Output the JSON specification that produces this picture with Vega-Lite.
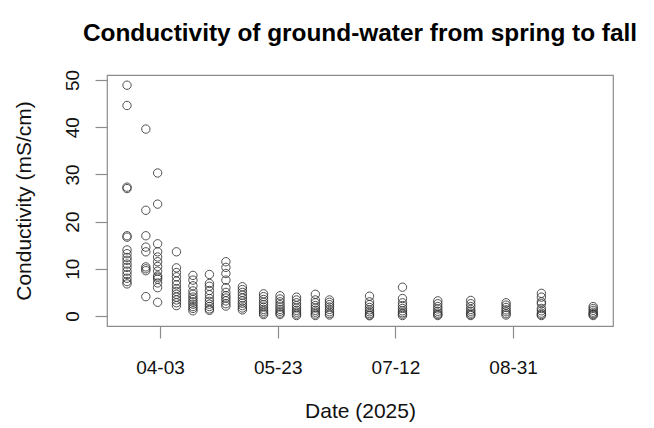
{
  "$schema": "https://vega.github.io/schema/vega-lite/v6.json",
  "autosize": {"type": "none"},
  "padding": {"left": 107, "top": 75, "right": 41, "bottom": 102},
  "width": 506,
  "height": 251,
  "background": "white",
  "title": {
    "text": "Conductivity of ground-water from spring to fall",
    "font": "Liberation Sans",
    "fontSize": 24.4,
    "fontWeight": "bold",
    "color": "#000",
    "anchor": "middle",
    "baseline": "alphabetic",
    "offset": 4
  },
  "config": {
    "view": {"stroke": "#8c8c8c", "strokeWidth": 1.2},
    "axis": {
      "grid": false,
      "domain": false,
      "tickColor": "#8c8c8c",
      "tickSize": 12,
      "tickWidth": 1.2,
      "labelFont": "Liberation Sans",
      "labelFontSize": 19,
      "labelColor": "#111",
      "titleFont": "Liberation Sans",
      "titleFontSize": 21,
      "titleFontWeight": "normal",
      "titleColor": "#111"
    }
  },
  "data": {
    "values": [
      {"date": "2025-03-20T00:00:00", "conductivity": 48.9},
      {"date": "2025-03-20T00:00:00", "conductivity": 44.6},
      {"date": "2025-03-20T00:00:00", "conductivity": 27.3},
      {"date": "2025-03-20T00:00:00", "conductivity": 27.0},
      {"date": "2025-03-20T00:00:00", "conductivity": 17.0},
      {"date": "2025-03-20T00:00:00", "conductivity": 16.7},
      {"date": "2025-03-20T00:00:00", "conductivity": 14.0},
      {"date": "2025-03-20T00:00:00", "conductivity": 13.2},
      {"date": "2025-03-20T00:00:00", "conductivity": 12.4},
      {"date": "2025-03-20T00:00:00", "conductivity": 11.8},
      {"date": "2025-03-20T00:00:00", "conductivity": 11.0},
      {"date": "2025-03-20T00:00:00", "conductivity": 10.3},
      {"date": "2025-03-20T00:00:00", "conductivity": 9.5},
      {"date": "2025-03-20T00:00:00", "conductivity": 8.8},
      {"date": "2025-03-20T00:00:00", "conductivity": 8.0},
      {"date": "2025-03-20T00:00:00", "conductivity": 7.3},
      {"date": "2025-03-20T00:00:00", "conductivity": 6.8},
      {"date": "2025-03-28T00:00:00", "conductivity": 39.6},
      {"date": "2025-03-28T00:00:00", "conductivity": 22.4},
      {"date": "2025-03-28T00:00:00", "conductivity": 17.0},
      {"date": "2025-03-28T00:00:00", "conductivity": 14.6},
      {"date": "2025-03-28T00:00:00", "conductivity": 13.6},
      {"date": "2025-03-28T00:00:00", "conductivity": 10.4},
      {"date": "2025-03-28T00:00:00", "conductivity": 10.0},
      {"date": "2025-03-28T00:00:00", "conductivity": 9.6},
      {"date": "2025-03-28T00:00:00", "conductivity": 4.1},
      {"date": "2025-04-02T00:00:00", "conductivity": 30.3},
      {"date": "2025-04-02T00:00:00", "conductivity": 23.7},
      {"date": "2025-04-02T00:00:00", "conductivity": 15.3},
      {"date": "2025-04-02T00:00:00", "conductivity": 13.6},
      {"date": "2025-04-02T00:00:00", "conductivity": 12.5},
      {"date": "2025-04-02T00:00:00", "conductivity": 11.5},
      {"date": "2025-04-02T00:00:00", "conductivity": 10.5},
      {"date": "2025-04-02T00:00:00", "conductivity": 9.5},
      {"date": "2025-04-02T00:00:00", "conductivity": 8.5},
      {"date": "2025-04-02T00:00:00", "conductivity": 8.2},
      {"date": "2025-04-02T00:00:00", "conductivity": 7.8},
      {"date": "2025-04-02T00:00:00", "conductivity": 7.0},
      {"date": "2025-04-02T00:00:00", "conductivity": 6.0},
      {"date": "2025-04-02T00:00:00", "conductivity": 2.9},
      {"date": "2025-04-10T00:00:00", "conductivity": 13.6},
      {"date": "2025-04-10T00:00:00", "conductivity": 10.2},
      {"date": "2025-04-10T00:00:00", "conductivity": 9.2},
      {"date": "2025-04-10T00:00:00", "conductivity": 8.3},
      {"date": "2025-04-10T00:00:00", "conductivity": 7.4},
      {"date": "2025-04-10T00:00:00", "conductivity": 6.6},
      {"date": "2025-04-10T00:00:00", "conductivity": 5.8},
      {"date": "2025-04-10T00:00:00", "conductivity": 5.2},
      {"date": "2025-04-10T00:00:00", "conductivity": 4.6},
      {"date": "2025-04-10T00:00:00", "conductivity": 4.0},
      {"date": "2025-04-10T00:00:00", "conductivity": 3.4},
      {"date": "2025-04-10T00:00:00", "conductivity": 2.8},
      {"date": "2025-04-10T00:00:00", "conductivity": 2.2},
      {"date": "2025-04-17T00:00:00", "conductivity": 8.6},
      {"date": "2025-04-17T00:00:00", "conductivity": 7.6},
      {"date": "2025-04-17T00:00:00", "conductivity": 6.4},
      {"date": "2025-04-17T00:00:00", "conductivity": 5.3},
      {"date": "2025-04-17T00:00:00", "conductivity": 4.6},
      {"date": "2025-04-17T00:00:00", "conductivity": 4.0},
      {"date": "2025-04-17T00:00:00", "conductivity": 3.5},
      {"date": "2025-04-17T00:00:00", "conductivity": 3.0},
      {"date": "2025-04-17T00:00:00", "conductivity": 2.5},
      {"date": "2025-04-17T00:00:00", "conductivity": 2.0},
      {"date": "2025-04-17T00:00:00", "conductivity": 1.6},
      {"date": "2025-04-17T00:00:00", "conductivity": 1.1},
      {"date": "2025-04-24T00:00:00", "conductivity": 8.8},
      {"date": "2025-04-24T00:00:00", "conductivity": 6.9},
      {"date": "2025-04-24T00:00:00", "conductivity": 6.3},
      {"date": "2025-04-24T00:00:00", "conductivity": 5.4},
      {"date": "2025-04-24T00:00:00", "conductivity": 4.5},
      {"date": "2025-04-24T00:00:00", "conductivity": 3.7},
      {"date": "2025-04-24T00:00:00", "conductivity": 3.1},
      {"date": "2025-04-24T00:00:00", "conductivity": 2.5},
      {"date": "2025-04-24T00:00:00", "conductivity": 2.0},
      {"date": "2025-04-24T00:00:00", "conductivity": 1.5},
      {"date": "2025-04-24T00:00:00", "conductivity": 1.2},
      {"date": "2025-05-01T00:00:00", "conductivity": 11.5},
      {"date": "2025-05-01T00:00:00", "conductivity": 10.3},
      {"date": "2025-05-01T00:00:00", "conductivity": 9.0},
      {"date": "2025-05-01T00:00:00", "conductivity": 7.6},
      {"date": "2025-05-01T00:00:00", "conductivity": 6.0},
      {"date": "2025-05-01T00:00:00", "conductivity": 5.0},
      {"date": "2025-05-01T00:00:00", "conductivity": 4.3},
      {"date": "2025-05-01T00:00:00", "conductivity": 3.8},
      {"date": "2025-05-01T00:00:00", "conductivity": 3.2},
      {"date": "2025-05-01T00:00:00", "conductivity": 2.6},
      {"date": "2025-05-01T00:00:00", "conductivity": 2.1},
      {"date": "2025-05-08T00:00:00", "conductivity": 6.2},
      {"date": "2025-05-08T00:00:00", "conductivity": 5.6},
      {"date": "2025-05-08T00:00:00", "conductivity": 5.0},
      {"date": "2025-05-08T00:00:00", "conductivity": 4.4},
      {"date": "2025-05-08T00:00:00", "conductivity": 3.8},
      {"date": "2025-05-08T00:00:00", "conductivity": 3.2},
      {"date": "2025-05-08T00:00:00", "conductivity": 2.7},
      {"date": "2025-05-08T00:00:00", "conductivity": 2.2},
      {"date": "2025-05-08T00:00:00", "conductivity": 1.7},
      {"date": "2025-05-08T00:00:00", "conductivity": 1.3},
      {"date": "2025-05-17T00:00:00", "conductivity": 4.7},
      {"date": "2025-05-17T00:00:00", "conductivity": 4.1},
      {"date": "2025-05-17T00:00:00", "conductivity": 3.5},
      {"date": "2025-05-17T00:00:00", "conductivity": 2.9},
      {"date": "2025-05-17T00:00:00", "conductivity": 2.4},
      {"date": "2025-05-17T00:00:00", "conductivity": 1.9},
      {"date": "2025-05-17T00:00:00", "conductivity": 1.4},
      {"date": "2025-05-17T00:00:00", "conductivity": 1.0},
      {"date": "2025-05-17T00:00:00", "conductivity": 0.6},
      {"date": "2025-05-17T00:00:00", "conductivity": 0.3},
      {"date": "2025-05-24T00:00:00", "conductivity": 4.3},
      {"date": "2025-05-24T00:00:00", "conductivity": 3.6},
      {"date": "2025-05-24T00:00:00", "conductivity": 3.0},
      {"date": "2025-05-24T00:00:00", "conductivity": 2.4},
      {"date": "2025-05-24T00:00:00", "conductivity": 1.9},
      {"date": "2025-05-24T00:00:00", "conductivity": 1.4},
      {"date": "2025-05-24T00:00:00", "conductivity": 1.0},
      {"date": "2025-05-24T00:00:00", "conductivity": 0.6},
      {"date": "2025-05-24T00:00:00", "conductivity": 0.3},
      {"date": "2025-05-31T00:00:00", "conductivity": 4.0},
      {"date": "2025-05-31T00:00:00", "conductivity": 3.4},
      {"date": "2025-05-31T00:00:00", "conductivity": 2.8},
      {"date": "2025-05-31T00:00:00", "conductivity": 2.2},
      {"date": "2025-05-31T00:00:00", "conductivity": 1.7},
      {"date": "2025-05-31T00:00:00", "conductivity": 1.2},
      {"date": "2025-05-31T00:00:00", "conductivity": 0.8},
      {"date": "2025-05-31T00:00:00", "conductivity": 0.4},
      {"date": "2025-05-31T00:00:00", "conductivity": 0.1},
      {"date": "2025-06-08T00:00:00", "conductivity": 4.6},
      {"date": "2025-06-08T00:00:00", "conductivity": 3.4},
      {"date": "2025-06-08T00:00:00", "conductivity": 2.8},
      {"date": "2025-06-08T00:00:00", "conductivity": 2.2},
      {"date": "2025-06-08T00:00:00", "conductivity": 1.7},
      {"date": "2025-06-08T00:00:00", "conductivity": 1.2},
      {"date": "2025-06-08T00:00:00", "conductivity": 0.8},
      {"date": "2025-06-08T00:00:00", "conductivity": 0.4},
      {"date": "2025-06-08T00:00:00", "conductivity": 0.1},
      {"date": "2025-06-14T00:00:00", "conductivity": 3.4},
      {"date": "2025-06-14T00:00:00", "conductivity": 2.9},
      {"date": "2025-06-14T00:00:00", "conductivity": 2.4},
      {"date": "2025-06-14T00:00:00", "conductivity": 1.9},
      {"date": "2025-06-14T00:00:00", "conductivity": 1.4},
      {"date": "2025-06-14T00:00:00", "conductivity": 0.9},
      {"date": "2025-06-14T00:00:00", "conductivity": 0.5},
      {"date": "2025-06-14T00:00:00", "conductivity": 0.2},
      {"date": "2025-07-01T00:00:00", "conductivity": 4.2},
      {"date": "2025-07-01T00:00:00", "conductivity": 3.0},
      {"date": "2025-07-01T00:00:00", "conductivity": 2.4},
      {"date": "2025-07-01T00:00:00", "conductivity": 1.8},
      {"date": "2025-07-01T00:00:00", "conductivity": 1.3},
      {"date": "2025-07-01T00:00:00", "conductivity": 0.9},
      {"date": "2025-07-01T00:00:00", "conductivity": 0.5},
      {"date": "2025-07-01T00:00:00", "conductivity": 0.2},
      {"date": "2025-07-01T00:00:00", "conductivity": 0.05},
      {"date": "2025-07-15T00:00:00", "conductivity": 6.1},
      {"date": "2025-07-15T00:00:00", "conductivity": 3.7},
      {"date": "2025-07-15T00:00:00", "conductivity": 2.8},
      {"date": "2025-07-15T00:00:00", "conductivity": 2.2},
      {"date": "2025-07-15T00:00:00", "conductivity": 1.6},
      {"date": "2025-07-15T00:00:00", "conductivity": 1.1},
      {"date": "2025-07-15T00:00:00", "conductivity": 0.7},
      {"date": "2025-07-15T00:00:00", "conductivity": 0.4},
      {"date": "2025-07-15T00:00:00", "conductivity": 0.1},
      {"date": "2025-07-30T00:00:00", "conductivity": 3.2},
      {"date": "2025-07-30T00:00:00", "conductivity": 2.6},
      {"date": "2025-07-30T00:00:00", "conductivity": 2.0},
      {"date": "2025-07-30T00:00:00", "conductivity": 1.5},
      {"date": "2025-07-30T00:00:00", "conductivity": 1.0},
      {"date": "2025-07-30T00:00:00", "conductivity": 0.6},
      {"date": "2025-07-30T00:00:00", "conductivity": 0.3},
      {"date": "2025-07-30T00:00:00", "conductivity": 0.1},
      {"date": "2025-08-13T00:00:00", "conductivity": 3.3},
      {"date": "2025-08-13T00:00:00", "conductivity": 2.6},
      {"date": "2025-08-13T00:00:00", "conductivity": 2.0},
      {"date": "2025-08-13T00:00:00", "conductivity": 1.4},
      {"date": "2025-08-13T00:00:00", "conductivity": 1.0},
      {"date": "2025-08-13T00:00:00", "conductivity": 0.6},
      {"date": "2025-08-13T00:00:00", "conductivity": 0.3},
      {"date": "2025-08-13T00:00:00", "conductivity": 0.1},
      {"date": "2025-08-28T00:00:00", "conductivity": 2.8},
      {"date": "2025-08-28T00:00:00", "conductivity": 2.3},
      {"date": "2025-08-28T00:00:00", "conductivity": 1.8},
      {"date": "2025-08-28T00:00:00", "conductivity": 1.3},
      {"date": "2025-08-28T00:00:00", "conductivity": 0.9},
      {"date": "2025-08-28T00:00:00", "conductivity": 0.5},
      {"date": "2025-08-28T00:00:00", "conductivity": 0.2},
      {"date": "2025-09-12T00:00:00", "conductivity": 4.8},
      {"date": "2025-09-12T00:00:00", "conductivity": 4.0},
      {"date": "2025-09-12T00:00:00", "conductivity": 3.0},
      {"date": "2025-09-12T00:00:00", "conductivity": 2.6},
      {"date": "2025-09-12T00:00:00", "conductivity": 1.6},
      {"date": "2025-09-12T00:00:00", "conductivity": 1.1},
      {"date": "2025-09-12T00:00:00", "conductivity": 0.6},
      {"date": "2025-09-12T00:00:00", "conductivity": 0.3},
      {"date": "2025-09-12T00:00:00", "conductivity": 0.1},
      {"date": "2025-10-04T00:00:00", "conductivity": 2.0},
      {"date": "2025-10-04T00:00:00", "conductivity": 1.6},
      {"date": "2025-10-04T00:00:00", "conductivity": 1.2},
      {"date": "2025-10-04T00:00:00", "conductivity": 0.8},
      {"date": "2025-10-04T00:00:00", "conductivity": 0.5},
      {"date": "2025-10-04T00:00:00", "conductivity": 0.3},
      {"date": "2025-10-04T00:00:00", "conductivity": 0.1}
    ]
  },
  "mark": {"type": "point", "shape": "circle", "filled": false, "size": 70, "stroke": "#333", "strokeWidth": 1, "opacity": 0.85},
  "encoding": {
    "x": {
      "field": "date",
      "type": "temporal",
      "scale": {
        "domain": [
          {"year": 2025, "month": 3, "date": 11, "hours": 12},
          {"year": 2025, "month": 10, "date": 12, "hours": 10}
        ]
      },
      "axis": {
        "title": "Date (2025)",
        "values": [
          {"year": 2025, "month": 4, "date": 3},
          {"year": 2025, "month": 5, "date": 23},
          {"year": 2025, "month": 7, "date": 12},
          {"year": 2025, "month": 8, "date": 31}
        ],
        "format": "%m-%d",
        "labelAngle": 0,
        "labelAlign": "center",
        "labelBaseline": "alphabetic",
        "labelPadding": 35,
        "titleBaseline": "alphabetic",
        "titleY": 91
      }
    },
    "y": {
      "field": "conductivity",
      "type": "quantitative",
      "scale": {"domain": [-2.12, 51.06], "nice": false, "zero": false},
      "axis": {
        "title": "Conductivity (mS/cm)",
        "values": [0, 10, 20, 30, 40, 50],
        "labelAngle": -90,
        "labelAlign": "center",
        "labelBaseline": "alphabetic",
        "labelPadding": 17,
        "titleBaseline": "alphabetic",
        "titleAngle": -90,
        "titleX": -77
      }
    }
  }
}
